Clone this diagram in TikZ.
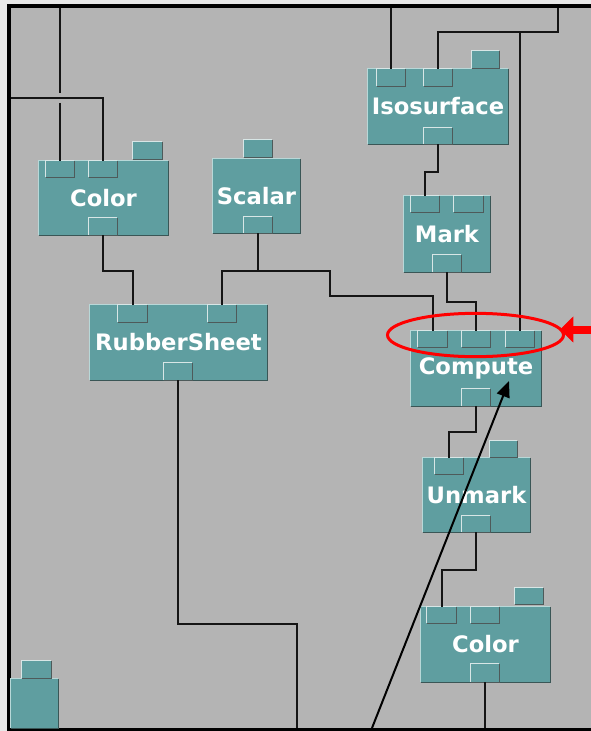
\documentclass[tikz,border=0pt]{standalone}
\usepackage{fontspec}
\setmainfont{DejaVu Sans}
\usetikzlibrary{fit,arrows.meta,shapes.geometric}
\definecolor{tealbox}{HTML}{5F9EA0}
\definecolor{bggray}{HTML}{B4B4B4}
\definecolor{outergray}{HTML}{E8E8E8}
\definecolor{hilite}{HTML}{B8D8D8}
\definecolor{shadecol}{HTML}{3A5656}
\definecolor{porthi}{HTML}{D8E6E6}
\definecolor{portsh}{HTML}{4E5A5A}
\definecolor{wire}{HTML}{151515}
\tikzset{
  modbox/.style 2 args={fit={#1}, inner sep=0pt, fill=tealbox,
    label={[text=white, inner sep=0pt, font=\bfseries\fontsize{17}{19}\selectfont]center:#2}},
  portbox/.style={fit={#1}, inner sep=0pt, fill=tealbox},
  wireline/.style={draw=wire, line width=1.5pt},
}
\newcommand\bevelbox[1]{%
  \draw[draw=hilite, line width=1.1pt] (#1.south west) |- (#1.north east);
  \draw[draw=shadecol, line width=1.1pt] (#1.south west) -| (#1.north east);}
\newcommand\bevelport[1]{%
  \draw[draw=porthi, line width=1.1pt] (#1.south west) |- (#1.north east);
  \draw[draw=portsh, line width=1.1pt] (#1.south west) -| (#1.north east);}
\begin{document}
\begin{tikzpicture}[x=0.75pt,y=-0.75pt]
\useasboundingbox (0,0) rectangle (591,731);
% frame
\fill[outergray] (0,0) rectangle (591,731);
\fill[bggray] (11,8) rectangle (591,728);
\fill[black] (7,4) rectangle (591,8);
\fill[black] (7,4) rectangle (11,731);
\fill[black] (7,728) rectangle (591,731);

% ---------- modules ----------
% Color (top)
\node[modbox={(39,161) (168,235)}{Color}] (c1) {}; \bevelbox{c1}
\node[portbox={(46,161) (74,177)}] (c1in1) {}; \bevelport{c1in1}
\node[portbox={(89,161) (117,177)}] (c1in2) {}; \bevelport{c1in2}
\node[portbox={(133,142) (162,159)}] (c1ex) {}; \bevelport{c1ex}
\node[portbox={(89,218) (117,235)}] (c1out) {}; \bevelport{c1out}
% Scalar
\node[modbox={(213,159) (300,233)}{Scalar}] (sc) {}; \bevelbox{sc}
\node[portbox={(244,140) (272,157)}] (scex) {}; \bevelport{scex}
\node[portbox={(244,217) (272,233)}] (scout) {}; \bevelport{scout}
% Isosurface
\node[modbox={(368,69) (508,144)}{Isosurface}] (iso) {}; \bevelbox{iso}
\node[portbox={(377,69) (405,86)}] (isoin1) {}; \bevelport{isoin1}
\node[portbox={(424,69) (452,86)}] (isoin2) {}; \bevelport{isoin2}
\node[portbox={(472,51) (499,68)}] (isoex) {}; \bevelport{isoex}
\node[portbox={(424,128) (452,144)}] (isoout) {}; \bevelport{isoout}
% Mark
\node[modbox={(404,196) (490,272)}{Mark}] (mark) {}; \bevelbox{mark}
\node[portbox={(411,196) (439,212)}] (markin1) {}; \bevelport{markin1}
\node[portbox={(454,196) (483,212)}] (markin2) {}; \bevelport{markin2}
\node[portbox={(433,255) (461,272)}] (markout) {}; \bevelport{markout}
% RubberSheet
\node[modbox={(90,305) (267,380)}{RubberSheet}] (rs) {}; \bevelbox{rs}
\node[portbox={(118,305) (147,322)}] (rsin1) {}; \bevelport{rsin1}
\node[portbox={(208,305) (236,322)}] (rsin2) {}; \bevelport{rsin2}
\node[portbox={(164,363) (192,380)}] (rsout) {}; \bevelport{rsout}
% Compute
\node[modbox={(411,331) (541,406)}{Compute}] (cmp) {}; \bevelbox{cmp}
\node[portbox={(418,331) (447,347)}] (cmpin1) {}; \bevelport{cmpin1}
\node[portbox={(462,331) (490,347)}] (cmpin2) {}; \bevelport{cmpin2}
\node[portbox={(506,331) (534,347)}] (cmpin3) {}; \bevelport{cmpin3}
\node[portbox={(462,389) (490,406)}] (cmpout) {}; \bevelport{cmpout}
% Unmark
\node[modbox={(423,458) (530,532)}{Unmark}] (um) {}; \bevelbox{um}
\node[portbox={(435,458) (463,474)}] (umin1) {}; \bevelport{umin1}
\node[portbox={(490,441) (517,457)}] (umex) {}; \bevelport{umex}
\node[portbox={(462,516) (490,532)}] (umout) {}; \bevelport{umout}
% Color (bottom)
\node[modbox={(421,607) (550,682)}{Color}] (c2) {}; \bevelbox{c2}
\node[portbox={(427,607) (456,623)}] (c2in1) {}; \bevelport{c2in1}
\node[portbox={(471,607) (499,623)}] (c2in2) {}; \bevelport{c2in2}
\node[portbox={(515,588) (543,604)}] (c2ex) {}; \bevelport{c2ex}
\node[portbox={(471,664) (499,682)}] (c2out) {}; \bevelport{c2out}
% partial module bottom left
\node[portbox={(11,679) (58,728)}] (pm) {}; \bevelbox{pm}
\node[portbox={(22,661) (51,678)}] (pmex) {}; \bevelport{pmex}

% ---------- rails / free ends ----------
\coordinate (t1) at (60,8);
\coordinate (g1a) at (60,93);
\coordinate (g1b) at (60,103);
\coordinate (l1) at (11,98);
\coordinate (t2) at (391,8);
\coordinate (t3) at (558,8);
\coordinate (j1) at (520,32);
\coordinate (y172) at (0,172);
\coordinate (y271) at (0,271);
\coordinate (k1) at (330,271);
\coordinate (k2) at (330,296);
\coordinate (y302) at (0,302);
\coordinate (y432) at (0,432);
\coordinate (y570) at (0,570);
\coordinate (y624) at (0,624);
\coordinate (b1) at (485,728);
\coordinate (b2) at (297,728);

% ---------- wires ----------
\draw[wireline] (t1) -- (g1a);
\draw[wireline] (g1b) -- (c1in1.north);
\draw[wireline] (l1) -| (c1in2.north);
\draw[wireline] (c1out.south) -- (c1out.south |- y271) -| (rsin1.north);
\draw[wireline] (scout.south) -- (scout.south |- y271) -| (rsin2.north);
\draw[wireline] (scout.south |- y271) -- (k1) -- (k2) -| (cmpin1.north);
\draw[wireline] (markout.south) -- (markout.south |- y302) -| (cmpin2.north);
\draw[wireline] (t3) |- (isoin2.north |- j1) -- (isoin2.north);
\draw[wireline] (j1) -- (cmpin3.north);
\draw[wireline] (t2) -- (isoin1.north);
\draw[wireline] (isoout.south) -- (isoout.south |- y172) -| (markin1.north);
\draw[wireline] (cmpout.south) -- (cmpout.south |- y432) -| (umin1.north);
\draw[wireline] (umout.south) -- (umout.south |- y570) -| (c2in1.north);
\draw[wireline] (c2out.south) -- (b1);
\draw[wireline] (rsout.south) -- (rsout.south |- y624) -| (b2);

% ---------- annotations ----------
\coordinate (a0) at (372,728);
\coordinate (a1) at (509,381);
\draw[black, line width=1.5pt, -{Triangle[length=12pt,width=10pt]}] (a0) -- (a1);
\node[ellipse, draw=red, line width=2.25pt, minimum width=132pt,
  minimum height=32.5pt, inner sep=0pt] (hl) at (475.5,335) {};
\coordinate (r0) at (594,329.5);
\coordinate (r1) at (560,329.5);
\draw[red, line width=6pt, -{Triangle[length=10pt,width=19pt]}] (r0) -- (r1);
\end{tikzpicture}
\end{document}
